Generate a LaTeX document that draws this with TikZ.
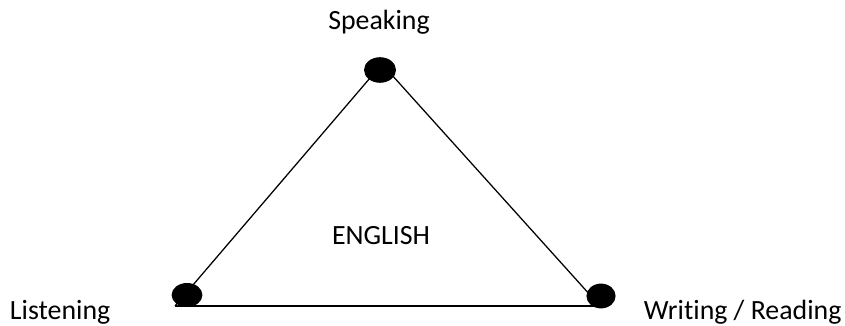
\documentclass[tikz,border=0pt]{standalone}
\usepackage{fontspec}
\setmainfont{Carlito}[Ligatures=NoCommon]
\usetikzlibrary{shapes.geometric}

\tikzset{
  skilldot/.style={ellipse, fill=black, inner sep=0pt},
  skilllabel/.style={font=\fontsize{19.8}{23}\selectfont}
}

\begin{document}
\begin{tikzpicture}[x=0.025cm, y=-0.025cm]

\useasboundingbox (0,0) rectangle (845,326);

% corners of the triangle
\coordinate (topv) at (382,64);
\coordinate (leftv) at (175,306);
\coordinate (rightv) at (600,306);

% sides
\draw[line width=0.9pt] (topv) -- (leftv);
\draw[line width=0.9pt] (topv) -- (rightv);
\draw[line width=1.4pt] (leftv) -- (rightv);

% dots
\node[skilldot, minimum width=0.8cm, minimum height=0.64cm] (speakdot) at (380,70) {};
\node[skilldot, minimum width=0.77cm, minimum height=0.6cm] (listendot) at (187,295) {};
\node[skilldot, minimum width=0.73cm, minimum height=0.62cm] (writedot) at (601,296) {};

% labels
\node[skilllabel] (speaking) at (379,22) {Speaking};
\node[skilllabel] (english) at (381,236) {ENGLISH};
\node[skilllabel, anchor=west] (listening) at (5,312) {Listening};
\node[skilllabel, anchor=west] (writing) at (639,312) {Writing / Reading};

\end{tikzpicture}
\end{document}
